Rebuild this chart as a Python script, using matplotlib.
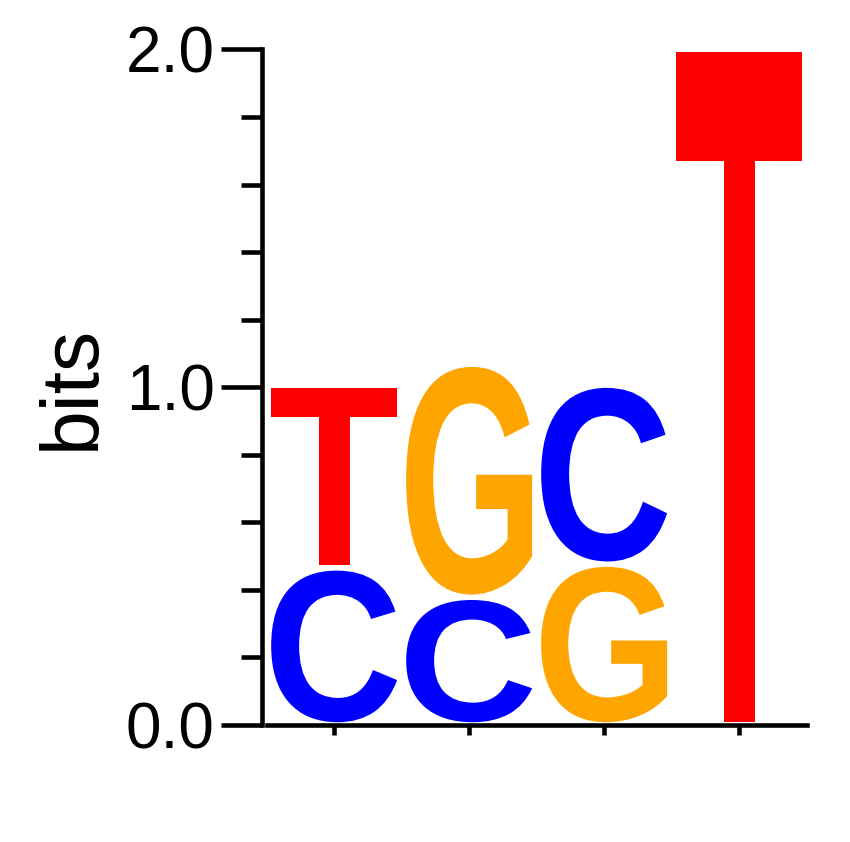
import matplotlib
matplotlib.use("Agg")
import matplotlib.pyplot as plt
from matplotlib.textpath import TextPath
from matplotlib.patches import PathPatch
from matplotlib.font_manager import FontProperties
from matplotlib.transforms import Affine2D
from matplotlib.ticker import MultipleLocator

plt.rcParams['font.family'] = ['Liberation Sans', 'DejaVu Sans']

# ---- data ----
positions = [1, 2, 3, 4]
letters = [['C', 'T'], ['C', 'G'], ['G', 'C'], ['T']]          # bottom to top
heights = [[0.465, 0.54], [0.378, 0.69], [0.476, 0.53], [2.0]]  # bits
colors = {'A': '#008000', 'C': '#0000FF', 'G': '#FFA500', 'T': '#FF0000'}
ytick_vals = [0.0, 1.0, 2.0]
ytick_labels = ['0.0', '1.0', '2.0']

fig = plt.figure(figsize=(8.5, 8.42), dpi=100)
ax = fig.add_axes([0.3137, 0.1390, 0.6353, 0.8023])

fp = FontProperties(family='Liberation Sans', weight='bold')
width = 0.933
pad_frac = 0.008  # fraction of total column scale (bits)

for pos, lets, hs in zip(positions, letters, heights):
    floor = 0.0
    for let, h in zip(lets, hs):
        path = TextPath((0, 0), let, size=1, prop=fp)
        bb = path.get_extents()
        pad = pad_frac if h < 1.5 else 0.009
        y0 = floor + pad
        hh = h - 2 * pad
        tr = (Affine2D().translate(-bb.x0, -bb.y0)
              .scale(width / bb.width, hh / bb.height)
              .translate(pos - width / 2, y0))
        patch = PathPatch(tr.transform_path(path), facecolor=colors[let],
                          edgecolor='none', lw=0)
        ax.add_patch(patch)
        floor += h

ax.set_xlim(0.5, 4.5)
ax.set_ylim(0, 2.0)
ax.set_xticks(positions)
ax.set_xticklabels([])
ax.set_yticks(ytick_vals)
ax.set_yticklabels(ytick_labels)
ax.yaxis.set_minor_locator(MultipleLocator(0.2))

for s in ['top', 'right']:
    ax.spines[s].set_visible(False)
for s in ['left', 'bottom']:
    ax.spines[s].set_linewidth(3.3)
ax.spines['left'].set_position(('outward', 3))

ax.tick_params(axis='y', which='major', length=29.5, width=3.3, labelsize=46, pad=5)
ax.tick_params(axis='y', which='minor', length=15, width=3.3)
ax.tick_params(axis='x', which='major', length=7.5, width=3.3)

ax.set_ylabel('bits', fontsize=58)
ax.yaxis.set_label_coords(-0.289, 0.5)

fig.savefig('out.png', dpi=100)
